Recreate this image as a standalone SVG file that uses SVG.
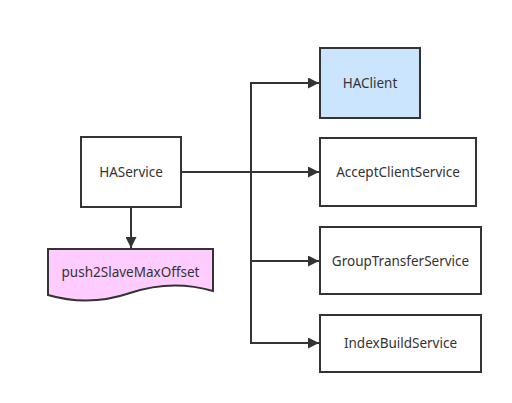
<svg xmlns="http://www.w3.org/2000/svg" width="512" height="403" viewBox="0 0 512 403">
<style>
.n{fill:#fff;stroke:#333;stroke-width:2}
.t{font-family:"Noto Sans","Open Sans",sans-serif;font-size:13.5px;fill:#333;text-anchor:middle;dominant-baseline:central}
.c{fill:none;stroke:#333;stroke-width:2}
</style>
<defs>
<marker id="a" viewBox="0 0 10 10" refX="10" refY="5" markerWidth="6" markerHeight="5.5" orient="auto" markerUnits="strokeWidth">
<path d="M0,0 L10,5 L0,10 z" fill="#333"/>
</marker>
</defs>
<rect width="512" height="403" fill="#fff"/>
<g id="connectors">
<path class="c" d="M181,172 H319" marker-end="url(#a)"/>
<path class="c" d="M251,172 V83 H319" marker-end="url(#a)"/>
<path class="c" d="M251,172 V261 H319" marker-end="url(#a)"/>
<path class="c" d="M251,261 V343 H319" marker-end="url(#a)"/>
<path class="c" d="M131,207 V248" marker-end="url(#a)"/>
</g>
<g id="HAService">
<rect class="n" x="81" y="137" width="100" height="70"/>
<text class="t" x="131" y="172">HAService</text>
</g>
<g id="push2SlaveMaxOffset">
<path class="n" style="fill:#ffccff" d="M48,249 H213 V291 Q172,279 130,293 Q89,307 48,295 Z"/>
<text class="t" x="130.5" y="272">push2SlaveMaxOffset</text>
</g>
<g id="HAClient">
<rect class="n" style="fill:#cce5ff" x="320" y="48" width="100" height="70"/>
<text class="t" x="370" y="83">HAClient</text>
</g>
<g id="AcceptClientService">
<rect class="n" x="320" y="138" width="156" height="68"/>
<text class="t" x="398" y="172">AcceptClientService</text>
</g>
<g id="GroupTransferService">
<rect class="n" x="320" y="227" width="161" height="67"/>
<text class="t" x="400.5" y="261">GroupTransferService</text>
</g>
<g id="IndexBuildService">
<rect class="n" x="320" y="315" width="161" height="57"/>
<text class="t" x="400.5" y="343">IndexBuildService</text>
</g>
</svg>
